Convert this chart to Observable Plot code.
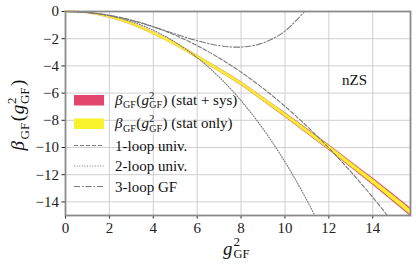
<!DOCTYPE html>
<html><head><meta charset="utf-8">
<script src="https://cdn.jsdelivr.net/npm/d3@7"></script>
<script src="https://cdn.jsdelivr.net/npm/@observablehq/plot@0.6"></script>
<style>body{margin:0;background:#fff} svg{display:block}</style>
</head><body><div id="chart"></div>
<script>
// nonperturbative beta function
const g2      = [0, 1, 2, 3, 4, 5, 6, 7, 8, 9, 10, 11, 12, 13, 14, 15, 15.72];
const betaNP  = [0, -0.1, -0.4, -0.9, -1.6, -2.4, -3.33, -4.3, -5.3, -6.45, -7.6, -8.8, -10.0, -11.25, -12.5, -13.8, -14.75];
const errStat = [0, 0.03, 0.05, 0.06, 0.07, 0.08, 0.08, 0.09, 0.09, 0.1, 0.1, 0.11, 0.12, 0.13, 0.14, 0.16, 0.17];
const errTot  = [0, 0.04, 0.06, 0.07, 0.08, 0.09, 0.1, 0.11, 0.12, 0.13, 0.15, 0.17, 0.19, 0.21, 0.24, 0.27, 0.29];
// perturbative curves
const gPT     = [0, 1, 2, 3, 4, 5, 6, 7, 8, 9, 10, 11, 12, 13, 14, 15];
const loop1   = [0, -0.07, -0.279, -0.627, -1.115, -1.742, -2.51, -3.415, -4.46, -5.646, -6.97, -8.434, -10.04, -11.78, -13.66, -15.68];
const loop2   = [0, -0.074, -0.312, -0.738, -1.377, -2.254, -3.393, -4.818, -6.555, -8.627, -11.06, -13.88, -17.1, null, null, null];
const loop3   = [0, -0.073, -0.296, -0.66, -1.131, -1.653, -2.146, -2.508, -2.614, -2.316, -1.44, 0.206, null, null, null, null];
const xTicks  = [0, 2, 4, 6, 8, 10, 12, 14];
const yTicks  = [0, -2, -4, -6, -8, -10, -12, -14];

const RED = "#e2466c", YEL = "#f7f22c", GRAY = "#7a7a7a";
const FF = "'Liberation Serif', 'Times New Roman', serif";
const band = g2.map((x, i) => ({x, b: betaNP[i], s: errStat[i], t: errTot[i]}));
const pt = (arr) => gPT.map((x, i) => ({x, y: arr[i]})).filter(d => d.y !== null);

const plot = Plot.plot({
  width: 416, height: 265,
  marginLeft: 65, marginRight: 6, marginTop: 11, marginBottom: 50,
  style: {fontFamily: FF, fontSize: "15px", background: "#fff", color: "#222"},
  x: {domain: [0, 15.72], ticks: xTicks, label: null, tickSize: 3.5, tickPadding: 3},
  y: {domain: [-15, 0], ticks: yTicks, label: null, tickSize: 3.5, tickPadding: 3,
      tickFormat: d => d < 0 ? "\u2212" + Math.abs(d) : String(d)},
  marks: [
    Plot.gridX(xTicks, {stroke: "#cfcfcf", strokeOpacity: 1, strokeWidth: 1}),
    Plot.gridY(yTicks, {stroke: "#cfcfcf", strokeOpacity: 1, strokeWidth: 1}),
    Plot.areaY(band, {x: "x", y1: d => d.b - d.t, y2: d => d.b + d.t, fill: RED, stroke: RED, strokeWidth: 0.5, curve: "catmull-rom"}),
    Plot.areaY(band, {x: "x", y1: d => d.b - d.s, y2: d => d.b + d.s, fill: YEL, stroke: YEL, strokeWidth: 0.8, curve: "catmull-rom"}),
    Plot.line(pt(loop1), {x: "x", y: "y", stroke: GRAY, strokeWidth: 1.1, strokeDasharray: "4,2", curve: "catmull-rom", clip: true}),
    Plot.line(pt(loop2), {x: "x", y: "y", stroke: GRAY, strokeWidth: 1.1, strokeDasharray: "1,1.6", curve: "catmull-rom", clip: true}),
    Plot.line(pt(loop3), {x: "x", y: "y", stroke: GRAY, strokeWidth: 1.1, strokeDasharray: "6,2,1.5,2", curve: "catmull-rom", clip: true}),
    Plot.frame({stroke: "#8a8a8a", strokeWidth: 1.8})
  ]
});
document.getElementById("chart").appendChild(plot);

const svg = d3.select(plot);
svg.attr("font-family", FF).style("font-family", FF);
svg.selectAll("text").attr("font-family", FF);

// math-like label helper: beta_GF(g^2_GF)
function betaLabel(sel, size, extra, gap) {
  const s = size, ss = Math.round(size * 0.68), k = gap || 0;
  sel.append("tspan").attr("font-style", "italic").attr("font-size", s).text("β");
  sel.append("tspan").attr("font-size", ss).attr("dx", k).attr("dy", s * 0.25).text("GF");
  sel.append("tspan").attr("font-size", s).attr("dx", k).attr("dy", -s * 0.25).text("(");
  sel.append("tspan").attr("font-style", "italic").attr("font-size", s).attr("dx", k * 0.5).text("g");
  sel.append("tspan").attr("font-size", ss).attr("dx", k * 0.5).attr("dy", -s * 0.4).text("2");
  sel.append("tspan").attr("font-size", ss).attr("dx", -ss * 0.5).attr("dy", s * 0.65).text("GF");
  sel.append("tspan").attr("font-size", s).attr("dx", k).attr("dy", -s * 0.25).text(")" + (extra || ""));
}

// y label
const yl = svg.append("text").attr("font-family", FF).attr("fill", "#111")
  .attr("text-anchor", "middle").attr("transform", "translate(24,115) rotate(-90)");
betaLabel(yl, 19, "", 1.5);

// x label
const xl = svg.append("text").attr("font-family", FF).attr("fill", "#111")
  .attr("text-anchor", "start").attr("x", 223).attr("y", 255);
xl.append("tspan").attr("font-style", "italic").attr("font-size", 19).text("g");
xl.append("tspan").attr("font-size", 13).attr("dx", 1).attr("dy", -9.5).text("2");
xl.append("tspan").attr("font-size", 12.5).attr("dx", -6.5).attr("dy", 12.5).text("GF");

// legend
const lg = svg.append("g").attr("font-family", FF).attr("fill", "#111").attr("text-anchor", "start");
lg.append("rect").attr("x", 74).attr("y", 95).attr("width", 30).attr("height", 10.5).attr("fill", RED);
const t1 = lg.append("text").attr("x", 115).attr("y", 104.5);
betaLabel(t1, 15, " (stat + sys)", 0.5);
lg.append("rect").attr("x", 74).attr("y", 118.5).attr("width", 30).attr("height", 10.5).attr("fill", YEL);
const t2 = lg.append("text").attr("x", 115).attr("y", 128);
betaLabel(t2, 15, " (stat only)", 0.5);
const rows = [
  {y: 145.5, dash: "4,2", label: "1-loop univ."},
  {y: 166, dash: "1,1.6", label: "2-loop univ."},
  {y: 186.5, dash: "6,2,1.5,2", label: "3-loop GF"}
];
rows.forEach(r => {
  lg.append("line").attr("x1", 74).attr("x2", 104).attr("y1", r.y).attr("y2", r.y)
    .attr("stroke", GRAY).attr("stroke-width", 1.1).attr("stroke-dasharray", r.dash);
  lg.append("text").attr("x", 115).attr("y", r.y + 5).attr("font-size", 15).text(r.label);
});

// annotation
svg.append("text").attr("font-family", FF).attr("font-size", 15).attr("fill", "#111")
  .attr("text-anchor", "start").attr("x", 342).attr("y", 85).text("nZS");
</script>
</body></html>
